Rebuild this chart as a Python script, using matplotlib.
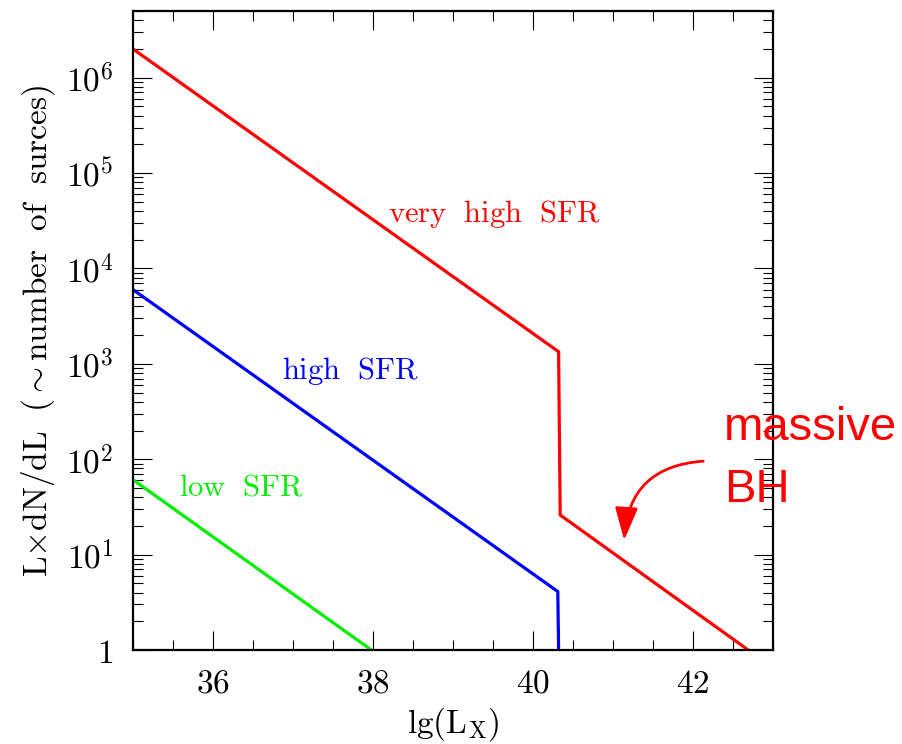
import numpy as np
import matplotlib.pyplot as plt
from matplotlib.ticker import FixedLocator, MultipleLocator, LogLocator, NullFormatter

plt.rcParams["mathtext.fontset"] = "cm"

# break points of the three luminosity functions (lg L, L dN/dL)
very_high_x = [35.0, 40.32, 40.34, 42.69]
very_high_y = [2.0e6, 1340.0, 26.0, 1.0]
high_x = [35.0, 40.31, 40.32, 40.32]
high_y = [6000.0, 4.1, 1.0, 0.5]
low_x = [35.0, 37.98]
low_y = [61.0, 1.0]

x_ticks = [36, 38, 40, 42]
y_ticks = [1, 1e1, 1e2, 1e3, 1e4, 1e5, 1e6]
y_tick_labels = ["$1$", "$10^1$", "$10^2$", "$10^3$", "$10^4$", "$10^5$", "$10^6$"]

fig = plt.figure(figsize=(9.02, 7.44), dpi=100)
ax = fig.add_axes([133 / 902, 1 - 650 / 744, 640 / 902, 639 / 744])

ax.plot(very_high_x, very_high_y, color="#ff0000", lw=2.3)
ax.plot(high_x, high_y, color="#0000ff", lw=2.3)
ax.plot(low_x, low_y, color="#00ee00", lw=2.3)

ax.set_yscale("log")
ax.set_xlim(35, 43)
ax.set_ylim(1, 5e6)

ax.xaxis.set_major_locator(FixedLocator(x_ticks))
ax.xaxis.set_minor_locator(MultipleLocator(0.5))
ax.set_xticklabels([f"${t}$" for t in x_ticks])
ax.yaxis.set_major_locator(FixedLocator(y_ticks))
ax.yaxis.set_minor_locator(LogLocator(base=10, subs=np.arange(2, 10)))
ax.yaxis.set_minor_formatter(NullFormatter())
ax.set_yticklabels(y_tick_labels)

ax.tick_params(which="both", direction="in", top=True, right=True, width=0.8, labelsize=24)
ax.tick_params(axis="x", pad=12)
ax.tick_params(axis="y", pad=14)
ax.tick_params(which="major", length=14)
ax.tick_params(which="minor", length=7)
for s in ax.spines.values():
    s.set_linewidth(1.6)

ax.set_xlabel(r"$\mathrm{lg(L_X)}$", fontsize=24, labelpad=4)
ax.set_ylabel(r"$\mathrm{L{\times}dN/dL\ \ (\sim number\ \ of\ \ surces)}$", fontsize=24, labelpad=6)

ax.text(38.19, 10**4.57, r"$\mathrm{very\ \ high\ \ SFR}$", color="#ff0000", fontsize=22, va="center")
ax.text(36.86, 10**2.92, r"$\mathrm{high\ \ SFR}$", color="#0000ff", fontsize=22, va="center")
ax.text(35.57, 10**1.71, r"$\mathrm{low\ \ SFR}$", color="#00ee00", fontsize=22, va="center")

fig.text(724 / 902, 1 - 428 / 744, "massive", color="#ff0000", fontsize=34,
         family="Liberation Sans", va="center", ha="left")
fig.text(724 / 902, 1 - 490 / 744, "BH", color="#ff0000", fontsize=34,
         family="Liberation Sans", va="center", ha="left")
ax.annotate("", xy=(624 / 902, 1 - 543 / 744), xytext=(706 / 902, 1 - 461 / 744),
            xycoords="figure fraction", textcoords="figure fraction",
            arrowprops=dict(arrowstyle="-|>,head_length=2.0,head_width=0.7", color="#ff0000",
                            lw=2, connectionstyle="arc3,rad=0.45"))

fig.savefig("out.png", dpi=100)
